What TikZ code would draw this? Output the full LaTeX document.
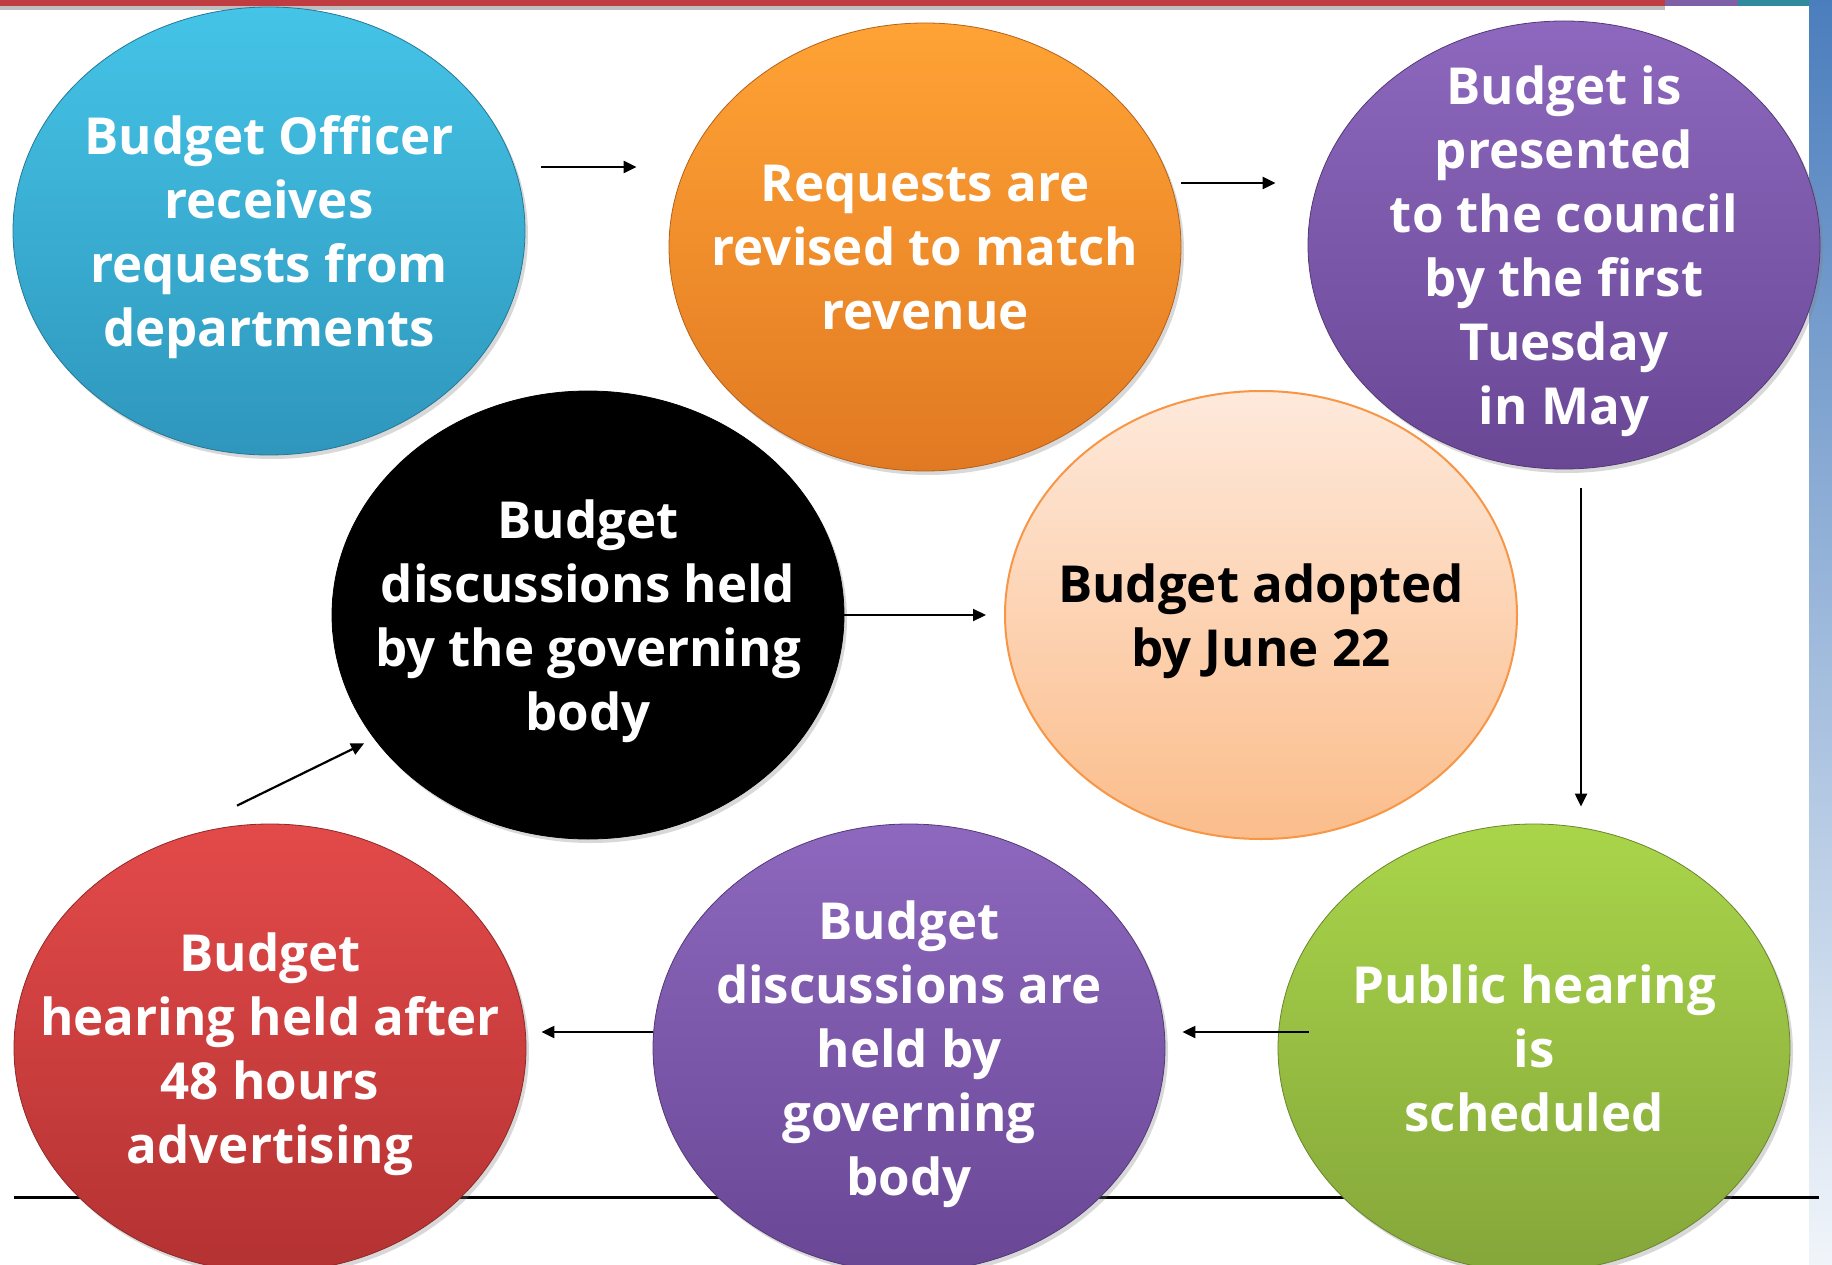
\documentclass[tikz,border=0pt]{standalone}
\usepackage{fontspec}
\setmainfont{Open Sans}
\usetikzlibrary{shapes.geometric,arrows.meta,shadows}
\definecolor{skyTop}{HTML}{44C4E7}
\definecolor{skyBot}{HTML}{2F96BC}
\definecolor{orangeTop}{HTML}{FFA335}
\definecolor{orangeBot}{HTML}{E17922}
\definecolor{violetTop}{HTML}{8D68BE}
\definecolor{violetBot}{HTML}{694795}
\definecolor{peachTop}{HTML}{FEE9DB}
\definecolor{peachBot}{HTML}{FBBD8B}
\definecolor{peachRim}{HTML}{F79646}
\definecolor{redTop}{HTML}{E34A4A}
\definecolor{redBot}{HTML}{B43232}
\definecolor{limeTop}{HTML}{A9D54A}
\definecolor{limeBot}{HTML}{85A63A}
\definecolor{barRed}{HTML}{BF3D40}
\definecolor{barViolet}{HTML}{7E60A6}
\definecolor{barTeal}{HTML}{2F8A9E}
\definecolor{sideBlue}{HTML}{4B7EBD}
\tikzset{
  bubble/.style 2 args={ellipse, minimum width=512pt, minimum height=448pt,
    inner sep=-90pt, align=center, text=white,
    font=\bfseries\fontsize{51}{64}\selectfont,
    top color=#1, bottom color=#2, draw=#2!80!black, line width=0.8pt},
  lifted/.style={drop shadow={opacity=0.3, shadow xshift=3pt, shadow yshift=-4pt}},
  flow/.style={-{Triangle[length=13pt,width=12pt]}, line width=2.2pt},
}

\begin{document}
\begin{tikzpicture}[x=1pt, y=-1pt]
  \useasboundingbox (0,0) rectangle (1832,1265);
  \fill[white] (0,0) rectangle (1832,1265);

  % slide frame: top rule and right band
  \fill[black!25] (0,6) rectangle (1665,10);
  \fill[barRed] (0,0) rectangle (1665,6);
  \fill[barViolet] (1665,0) rectangle (1738,6);
  \fill[barTeal] (1738,0) rectangle (1810,6);
  \shade[top color=sideBlue, bottom color=sideBlue!8] (1809,0) rectangle (1832,1265);

  % base rule under the lower row
  \draw[line width=3pt] (14,1197) -- (1819,1197);

  % stages (last lines smashed so descenders do not lift the text)
  \node[bubble={skyTop}{skyBot}, lifted] (officer) at (269,231)
    {Budget Officer\\receives\\requests from\\\smash{departments}};
  \node[bubble={orangeTop}{orangeBot}, lifted] (revise) at (925,247)
    {Requests are\\revised to match\\\smash{revenue}};
  \node[bubble={violetTop}{violetBot}, lifted] (present) at (1564,245)
    {Budget is\\presented\\to the council\\by the first\\Tuesday\\\smash{in May}};
  \node[bubble={black}{black}, draw=black, lifted] (discuss) at (588,615)
    {Budget\\discussions held\\by the governing\\\smash{body}};
  \node[bubble={peachTop}{peachBot}, draw=peachRim, line width=2pt, text=black] (adopt) at (1261,615)
    {Budget adopted\\\smash{by June 22}};
  \node[bubble={redTop}{redBot}, lifted] (hearing) at (270,1048)
    {Budget\\hearing held after\\48 hours\\\smash{advertising}};
  \node[bubble={violetTop}{violetBot}, lifted] (govern) at (909,1048)
    {Budget\\discussions are\\held by\\governing\\\smash{body}};
  \node[bubble={limeTop}{limeBot}, lifted] (public) at (1534,1048)
    {Public hearing\\is\\\smash{scheduled}};

  % flow between stages
  \draw[flow, shorten <=16pt, shorten >=32pt] ([yshift=64pt]officer.east) -- ([yshift=80pt]revise.west);
  \draw[flow, shorten >=32pt] ([yshift=64pt]revise.east) -- ([yshift=62pt]present.west);
  \draw[flow, shorten <=19pt, shorten >=17pt] ([xshift=17pt]present.south) -- ([xshift=47pt]public.north);
  \draw[flow, shorten <=-31pt, shorten >=17pt] ([yshift=16pt]public.west) -- ([yshift=16pt]govern.east);
  \draw[flow, shorten >=15pt] ([yshift=16pt]govern.west) -- ([yshift=16pt]hearing.east);
  \draw[flow, shorten >=11pt] ([xshift=-33pt, yshift=18pt]hearing.north) -- (discuss.210);
  \draw[flow, shorten >=18pt] (discuss.east) -- (adopt.west);
\end{tikzpicture}
\end{document}
